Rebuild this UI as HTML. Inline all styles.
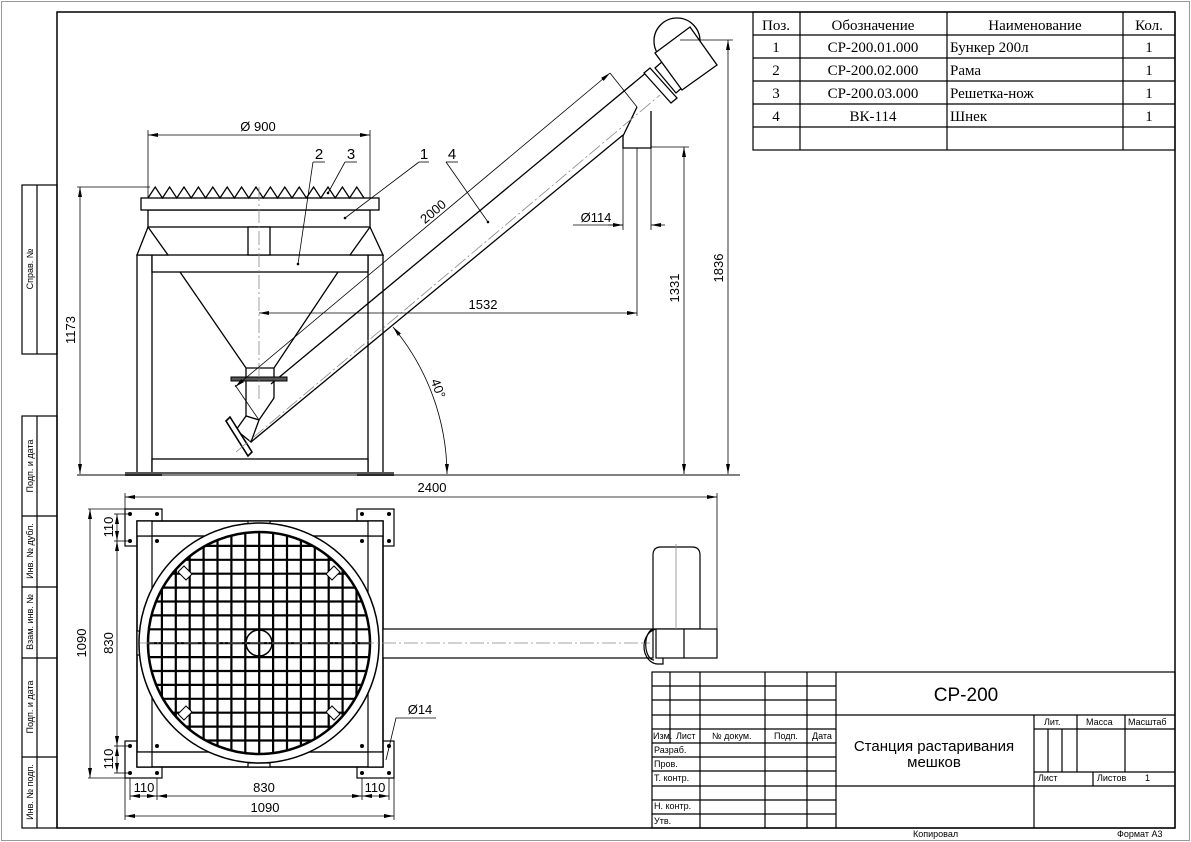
<!DOCTYPE html>
<html><head><meta charset="utf-8"><style>
html,body{margin:0;padding:0;background:#fff;width:1191px;height:842px;overflow:hidden}
svg{display:block}
text{font-family:"Liberation Sans","DejaVu Sans",sans-serif;fill:#000}
.s{font-family:"Liberation Serif",serif;font-size:15px}
</style></head><body>
<svg width="1191" height="842" viewBox="0 0 1191 842" xmlns="http://www.w3.org/2000/svg" overflow="hidden">
<defs>
<marker id="a" viewBox="0 0 10 6" refX="10" refY="3" markerWidth="10" markerHeight="6" orient="auto-start-reverse" markerUnits="userSpaceOnUse"><path d="M0,1 L10,3 L0,5 z" fill="#000"/></marker>
<clipPath id="cc"><circle cx="259" cy="643" r="111"/></clipPath>
</defs>
<rect x="1.5" y="1.5" width="1188" height="839" fill="none" stroke="#999" stroke-width="1"/>
<rect x="57" y="12" width="1118" height="816" fill="none" stroke="#000" stroke-width="1.5"/>
<g stroke="#000" stroke-width="1.2" fill="none">
<rect x="22" y="185" width="35" height="169"/><line x1="37" y1="185" x2="37" y2="354"/>
<rect x="22" y="416" width="35" height="412"/><line x1="37" y1="416" x2="37" y2="828"/>
<line x1="22" y1="516" x2="57" y2="516"/><line x1="22" y1="587" x2="57" y2="587"/>
<line x1="22" y1="658" x2="57" y2="658"/><line x1="22" y1="757" x2="57" y2="757"/>
</g>
<g font-size="9">
<text transform="translate(33,269) rotate(-90)" text-anchor="middle">Справ. №</text>
<text transform="translate(33,466) rotate(-90)" text-anchor="middle">Подп. и дата</text>
<text transform="translate(33,551) rotate(-90)" text-anchor="middle">Инв. № дубл.</text>
<text transform="translate(33,622) rotate(-90)" text-anchor="middle">Взам. инв. №</text>
<text transform="translate(33,707) rotate(-90)" text-anchor="middle">Подп. и дата</text>
<text transform="translate(33,792) rotate(-90)" text-anchor="middle">Инв. № подп.</text>
</g>
<g stroke="#000" stroke-width="1.2" fill="none">
<rect x="753" y="12" width="422" height="138"/>
<line x1="800" y1="12" x2="800" y2="150"/><line x1="947" y1="12" x2="947" y2="150"/><line x1="1123" y1="12" x2="1123" y2="150"/>
<line x1="753" y1="35" x2="1175" y2="35"/><line x1="753" y1="58" x2="1175" y2="58"/><line x1="753" y1="81" x2="1175" y2="81"/><line x1="753" y1="104" x2="1175" y2="104"/><line x1="753" y1="127" x2="1175" y2="127"/>
</g>
<g class="s">
<text x="776" y="30" text-anchor="middle" class="s">Поз.</text><text x="873" y="30" text-anchor="middle" class="s">Обозначение</text><text x="1035" y="30" text-anchor="middle" class="s">Наименование</text><text x="1149" y="30" text-anchor="middle" class="s">Кол.</text>
<text x="776" y="52" text-anchor="middle" class="s">1</text><text x="873" y="52" text-anchor="middle" class="s">СР-200.01.000</text><text x="950" y="52" class="s">Бункер 200л</text><text x="1149" y="52" text-anchor="middle" class="s">1</text>
<text x="776" y="75" text-anchor="middle" class="s">2</text><text x="873" y="75" text-anchor="middle" class="s">СР-200.02.000</text><text x="950" y="75" class="s">Рама</text><text x="1149" y="75" text-anchor="middle" class="s">1</text>
<text x="776" y="98" text-anchor="middle" class="s">3</text><text x="873" y="98" text-anchor="middle" class="s">СР-200.03.000</text><text x="950" y="98" class="s">Решетка-нож</text><text x="1149" y="98" text-anchor="middle" class="s">1</text>
<text x="776" y="121" text-anchor="middle" class="s">4</text><text x="873" y="121" text-anchor="middle" class="s">ВК-114</text><text x="950" y="121" class="s">Шнек</text><text x="1149" y="121" text-anchor="middle" class="s">1</text>
</g>
<g stroke="#000" stroke-width="1.2" fill="none">
<rect x="652" y="672" width="523" height="156"/>
<line x1="670" y1="672" x2="670" y2="743"/><line x1="700" y1="672" x2="700" y2="828"/><line x1="765" y1="672" x2="765" y2="828"/><line x1="807" y1="672" x2="807" y2="828"/><line x1="836" y1="672" x2="836" y2="828"/>
<line x1="652" y1="686" x2="836" y2="686"/><line x1="652" y1="700" x2="836" y2="700"/><line x1="652" y1="715" x2="1175" y2="715"/><line x1="652" y1="729" x2="836" y2="729"/><line x1="652" y1="743" x2="836" y2="743"/><line x1="652" y1="757" x2="836" y2="757"/><line x1="652" y1="771" x2="836" y2="771"/><line x1="652" y1="786" x2="1175" y2="786"/><line x1="652" y1="800" x2="836" y2="800"/><line x1="652" y1="814" x2="836" y2="814"/>
<line x1="1034" y1="715" x2="1034" y2="828"/><line x1="1034" y1="729" x2="1175" y2="729"/><line x1="1034" y1="772" x2="1175" y2="772"/>
<line x1="1077" y1="715" x2="1077" y2="772"/><line x1="1125" y1="715" x2="1125" y2="772"/>
<line x1="1048" y1="729" x2="1048" y2="772"/><line x1="1062" y1="729" x2="1062" y2="772"/><line x1="1093" y1="772" x2="1093" y2="786"/>
</g>
<g font-size="9">
<text x="653" y="739">Изм.</text><text x="676" y="739">Лист</text><text x="712" y="739">№ докум.</text><text x="774" y="739">Подп.</text><text x="812" y="739">Дата</text>
<text x="654" y="753">Разраб.</text><text x="654" y="767">Пров.</text><text x="654" y="781">Т. контр.</text><text x="654" y="809">Н. контр.</text><text x="654" y="824">Утв.</text>
<text x="1044" y="725">Лит.</text><text x="1086" y="725">Масса</text><text x="1128" y="725">Масштаб</text>
<text x="1038" y="781">Лист</text><text x="1097" y="781">Листов</text><text x="1145" y="781">1</text>
<text x="913" y="837">Копировал</text><text x="1117" y="837">Формат А3</text>
</g>
<text x="966" y="701" font-size="19" text-anchor="middle">СР-200</text>
<text x="934" y="751" font-size="15" text-anchor="middle">Станция растаривания</text>
<text x="934" y="767" font-size="15" text-anchor="middle">мешков</text>

<g stroke="#000" stroke-width="1.3" fill="#fff">
<rect x="137" y="255" width="15" height="218"/><rect x="368" y="255" width="15" height="218"/>
<rect x="152" y="255" width="216" height="17"/><rect x="152" y="459" width="216" height="14"/>
<polygon points="137,255 148,227 168,255"/><polygon points="383,255 370,227 350,255"/>
<rect x="148" y="210" width="222" height="17"/>
<rect x="141" y="198" width="238" height="12"/>
<rect x="248" y="227" width="22" height="28"/>
<polyline fill="none" points="148,198 155.2,187 162.4,198 169.6,187 176.8,198 184,187 191.2,198 198.4,187 205.6,198 212.8,187 220,198 227.2,187 234.4,198 241.6,187 248.8,198 256,187 263.2,198 270.4,187 277.6,198 284.8,187 292,198 299.2,187 306.4,198 313.6,187 320.8,198 328,187 335.2,198 342.4,187 349.6,198 356.8,187 364,198"/>
</g>
<g stroke="#000" stroke-width="1.3" fill="none">
<polyline points="180,272 246,368 274,368 338,272"/>
<line x1="246" y1="368" x2="246" y2="416"/><line x1="274" y1="368" x2="274" y2="398"/>
<polyline points="246,416 259,420 274,398"/>
<line x1="251" y1="442" x2="623" y2="135"/>
<line x1="271" y1="384" x2="647" y2="72"/>
<line x1="243" y1="420" x2="259" y2="420"/>
<polygon points="246,416 259,420 251,442 236,430" fill="#fff"/>
<polygon points="226,421 230,417 252,452 248,456" fill="#fff" stroke-width="1.6"/>
<polyline points="623,136 623,148 651,148 651,111"/>
<line x1="623" y1="136" x2="637" y2="107"/>
<polygon points="644,73 650,68 677,98 671,103" fill="#fff"/>
<polygon points="655,68 663,61 684,86 676,93" fill="#fff"/>
<circle cx="677" cy="41" r="23" fill="#fff"/>
<polygon points="655,53 690,27 717,65 682,90" fill="#fff"/>
</g>
<rect x="231" y="377" width="56" height="4" fill="#555" stroke="#000"/>
<line x1="259" y1="187" x2="259" y2="400" stroke="#888" stroke-width="0.8" stroke-dasharray="14,3,2,3"/>
<line x1="236" y1="452" x2="660" y2="95" stroke="#888" stroke-width="0.8" stroke-dasharray="14,3,2,3"/>
<rect x="125" y="472" width="37" height="4" fill="#555"/><rect x="357" y="472" width="37" height="4" fill="#555"/>
<line x1="77" y1="475" x2="740" y2="475" stroke="#000" stroke-width="0.9"/>
<g stroke="#000" stroke-width="0.8" fill="none">
<line x1="148" y1="130" x2="148" y2="198"/><line x1="370" y1="130" x2="370" y2="198"/>
<line x1="148" y1="135" x2="370" y2="135" marker-start="url(#a)" marker-end="url(#a)"/>
<line x1="77" y1="187" x2="150" y2="187"/>
<line x1="80" y1="187" x2="80" y2="474" marker-start="url(#a)" marker-end="url(#a)"/>
<line x1="235" y1="387" x2="610" y2="73" marker-start="url(#a)" marker-end="url(#a)"/>
<line x1="235" y1="385" x2="259" y2="420"/><line x1="610" y1="73" x2="637" y2="107"/>
<line x1="345" y1="218" x2="419" y2="162"/><line x1="419" y1="162" x2="429" y2="162"/>
<line x1="488" y1="222" x2="446" y2="162"/><line x1="446" y1="162" x2="458" y2="162"/>
<line x1="298" y1="264" x2="313" y2="162"/><line x1="313" y1="162" x2="325" y2="162"/>
<line x1="328" y1="193" x2="345" y2="162"/><line x1="345" y1="162" x2="357" y2="162"/>
<line x1="623" y1="148" x2="623" y2="230"/><line x1="651" y1="148" x2="651" y2="230"/><line x1="637" y1="148" x2="637" y2="316"/>
<line x1="573" y1="225" x2="623" y2="225"/><line x1="608" y1="225" x2="623" y2="225" marker-end="url(#a)"/><line x1="665" y1="225" x2="651" y2="225" marker-end="url(#a)"/>
<line x1="259" y1="313" x2="637" y2="313" marker-start="url(#a)" marker-end="url(#a)"/>
<line x1="651" y1="147" x2="689" y2="147"/>
<line x1="684" y1="147" x2="684" y2="474" marker-start="url(#a)" marker-end="url(#a)"/>
<line x1="680" y1="40" x2="733" y2="40"/>
<line x1="728" y1="40" x2="728" y2="474" marker-start="url(#a)" marker-end="url(#a)"/>
<path d="M393,327 A232,232 0 0 1 447,474" marker-start="url(#a)" marker-end="url(#a)"/>
</g>
<g fill="#000"><circle cx="345" cy="218" r="1.3"/><circle cx="488" cy="222" r="1.3"/><circle cx="298" cy="264" r="1.3"/><circle cx="328" cy="193" r="1.3"/></g>
<g font-size="13">
<text x="258" y="131" text-anchor="middle">Ø 900</text>
<text transform="translate(75,330) rotate(-90)" text-anchor="middle">1173</text>
<text transform="translate(436,215) rotate(-40)" text-anchor="middle">2000</text>
<text x="424" y="159" font-size="15" text-anchor="middle">1</text><text x="452" y="159" font-size="15" text-anchor="middle">4</text>
<text x="319" y="159" font-size="15" text-anchor="middle">2</text><text x="351" y="159" font-size="15" text-anchor="middle">3</text>
<text x="596" y="222" text-anchor="middle">Ø114</text>
<text x="483" y="309" text-anchor="middle">1532</text>
<text transform="translate(679,288) rotate(-90)" text-anchor="middle">1331</text>
<text transform="translate(723,268) rotate(-90)" text-anchor="middle">1836</text>
<text transform="translate(434,390) rotate(70)" text-anchor="middle">40°</text>
</g>

<g stroke="#000" stroke-width="1.2" fill="#fff">
<rect x="125" y="509" width="37" height="37"/><rect x="357" y="509" width="37" height="37"/>
<rect x="125" y="741" width="37" height="37"/><rect x="357" y="741" width="37" height="37"/>
<rect x="137" y="521" width="246" height="246" stroke-width="1.6"/>
<rect x="152" y="536" width="216" height="216"/>
<line x1="137" y1="536" x2="383" y2="536"/><line x1="137" y1="752" x2="383" y2="752"/>
<rect x="137" y="521" width="15" height="15"/><rect x="368" y="521" width="15" height="15"/><rect x="137" y="752" width="15" height="15"/><rect x="368" y="752" width="15" height="15"/>
<rect x="383" y="629" width="270" height="29"/>
<rect x="137" y="631" width="4" height="24"/>
<rect x="248" y="521" width="22" height="4"/><rect x="248" y="763" width="22" height="4"/>
<circle cx="259" cy="643" r="120" stroke-width="1.5"/>
</g>
<g fill="#000"><circle cx="130" cy="514" r="2"/><circle cx="157" cy="514" r="2"/><circle cx="130" cy="541" r="2"/><circle cx="157" cy="541" r="2"/>
<circle cx="362" cy="514" r="2"/><circle cx="389" cy="514" r="2"/><circle cx="362" cy="541" r="2"/><circle cx="389" cy="541" r="2"/>
<circle cx="130" cy="746" r="2"/><circle cx="157" cy="746" r="2"/><circle cx="130" cy="773" r="2"/><circle cx="157" cy="773" r="2"/>
<circle cx="362" cy="746" r="2"/><circle cx="389" cy="746" r="2"/><circle cx="362" cy="773" r="2"/><circle cx="389" cy="773" r="2"/></g>
<g clip-path="url(#cc)" stroke="#000" stroke-width="2.2">
<path d="M148,0V900M161.9,0V900M175.8,0V900M189.7,0V900M203.6,0V900M217.5,0V900M231.4,0V900M245.3,0V900M259.2,0V900M273.1,0V900M287,0V900M300.9,0V900M314.8,0V900M328.7,0V900M342.6,0V900M356.5,0V900M370.4,0V900"/>
<path d="M0,532H500M0,545.9H500M0,559.8H500M0,573.7H500M0,587.6H500M0,601.5H500M0,615.4H500M0,629.3H500M0,643.2H500M0,657.1H500M0,671H500M0,684.9H500M0,698.8H500M0,712.7H500M0,726.6H500M0,740.5H500M0,754.4H500"/>
</g>
<circle cx="259" cy="643" r="111" fill="none" stroke="#000" stroke-width="2.5"/>
<circle cx="259" cy="643" r="13" fill="none" stroke="#000" stroke-width="1.5"/>
<g stroke="#000" stroke-width="1" fill="#fff">
<polygon points="184,566 192,574 186,580 178,572"/><polygon points="334,566 326,574 332,580 340,572"/>
<polygon points="184,720 192,712 186,706 178,714"/><polygon points="334,720 326,712 332,706 340,714"/>
</g>
<line x1="140" y1="643" x2="650" y2="643" stroke="#888" stroke-width="0.8" stroke-dasharray="14,3,2,3"/>
<g stroke="#000" stroke-width="1.2" fill="#fff">
<path d="M653,629 V555 Q653,547 661,547 H692 Q700,547 700,555 V629 Z"/>
<path d="M658,629 A12,15 0 0 0 658,664 H663 V658" fill="none"/>
<path d="M654,629 A8,15 0 0 0 654,660" fill="none"/>
<rect x="656" y="629" width="61" height="29"/>
<line x1="684" y1="629" x2="684" y2="658"/>
</g>
<line x1="676" y1="544" x2="676" y2="629" stroke="#888" stroke-width="0.8"/>
<g stroke="#000" stroke-width="0.8" fill="none">
<line x1="125" y1="493" x2="125" y2="509"/><line x1="717" y1="493" x2="717" y2="629"/>
<line x1="125" y1="497" x2="717" y2="497" marker-start="url(#a)" marker-end="url(#a)"/>
<line x1="88" y1="509" x2="125" y2="509"/><line x1="88" y1="778" x2="125" y2="778"/>
<line x1="90" y1="509" x2="90" y2="778" marker-start="url(#a)" marker-end="url(#a)"/>
<line x1="114" y1="514" x2="130" y2="514"/><line x1="114" y1="541" x2="130" y2="541"/><line x1="114" y1="746" x2="130" y2="746"/><line x1="114" y1="773" x2="130" y2="773"/>
<line x1="117" y1="541" x2="117" y2="746" marker-start="url(#a)" marker-end="url(#a)"/>
<line x1="117" y1="514" x2="117" y2="541" marker-start="url(#a)" marker-end="url(#a)"/>
<line x1="117" y1="746" x2="117" y2="773" marker-start="url(#a)" marker-end="url(#a)"/>
<line x1="130" y1="778" x2="130" y2="800"/><line x1="157" y1="778" x2="157" y2="800"/><line x1="362" y1="778" x2="362" y2="800"/><line x1="389" y1="778" x2="389" y2="800"/>
<line x1="125" y1="778" x2="125" y2="820"/><line x1="394" y1="778" x2="394" y2="820"/>
<line x1="130" y1="796" x2="157" y2="796" marker-start="url(#a)" marker-end="url(#a)"/>
<line x1="157" y1="796" x2="362" y2="796" marker-start="url(#a)" marker-end="url(#a)"/>
<line x1="362" y1="796" x2="389" y2="796" marker-start="url(#a)" marker-end="url(#a)"/>
<line x1="125" y1="816" x2="394" y2="816" marker-start="url(#a)" marker-end="url(#a)"/>
<polyline points="386,760 396,718 436,718"/>
</g>
<g font-size="13">
<text x="432" y="492" text-anchor="middle">2400</text>
<text transform="translate(86,643) rotate(-90)" text-anchor="middle">1090</text>
<text transform="translate(113,643) rotate(-90)" text-anchor="middle">830</text>
<text transform="translate(113,527) rotate(-90)" text-anchor="middle">110</text>
<text transform="translate(113,759) rotate(-90)" text-anchor="middle">110</text>
<text x="144" y="792" text-anchor="middle">110</text>
<text x="264" y="792" text-anchor="middle">830</text>
<text x="375" y="792" text-anchor="middle">110</text>
<text x="265" y="812" text-anchor="middle">1090</text>
<text x="420" y="714" text-anchor="middle">Ø14</text>
</g>
</svg>
</body></html>
